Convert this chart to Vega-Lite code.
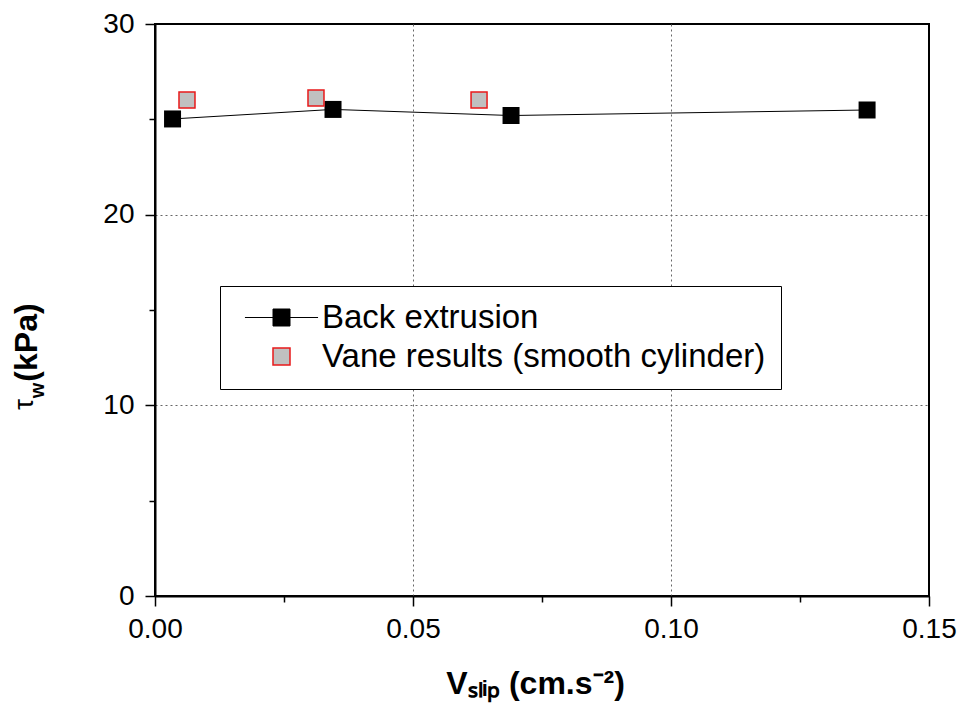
{
  "$schema": "https://vega.github.io/schema/vega-lite/v6.json",
  "autosize": {"type": "none"},
  "padding": {"left": 155, "top": 24, "right": 37, "bottom": 128},
  "width": 774,
  "height": 572,
  "background": "white",
  "config": {
    "view": {"stroke": "black", "strokeWidth": 2},
    "font": "Liberation Sans",
    "axis": {"labelFont": "Liberation Sans", "titleFont": "Liberation Sans"}
  },
  "data": {
    "values": [
      {"series": "Back extrusion", "v": 0.0034, "tau": 25.02},
      {"series": "Back extrusion", "v": 0.0345, "tau": 25.52},
      {"series": "Back extrusion", "v": 0.069, "tau": 25.2},
      {"series": "Back extrusion", "v": 0.138, "tau": 25.49},
      {"series": "Vane results (smooth cylinder)", "v": 0.0062, "tau": 26.01},
      {"series": "Vane results (smooth cylinder)", "v": 0.0312, "tau": 26.12},
      {"series": "Vane results (smooth cylinder)", "v": 0.0628, "tau": 26.01}
    ]
  },
  "layer": [
    {
      "transform": [{"filter": "datum.series === 'Back extrusion'"}],
      "mark": {"type": "line", "color": "black", "strokeWidth": 1},
      "encoding": {
        "x": {
          "field": "v", "type": "quantitative",
          "scale": {"domain": [0, 0.15], "nice": false, "zero": false},
          "axis": {
            "orient": "bottom",
            "values": [0, 0.05, 0.1, 0.15], "format": ".2f", "labelFlush": false,
            "labelFontSize": 28, "labelColor": "black", "labelPadding": 9,
            "tickSize": 10, "tickColor": "black", "tickWidth": 1.5,
            "domainColor": "black", "domainWidth": 2,
            "grid": true, "gridColor": "#666666", "gridDash": [2, 3], "gridWidth": 1,
            "gridOpacity": {"condition": {"test": "datum.value < 0.001 || datum.value > 0.149", "value": 0}, "value": 1},
            "title": "Vₛₗᵢₚ (cm.s⁻²)",
            "titleFontSize": 32, "titleFontWeight": "bold", "titleColor": "black",
            "titleX": 380, "titleY": 97, "titleAlign": "center", "titleBaseline": "alphabetic"
          }
        },
        "y": {
          "field": "tau", "type": "quantitative",
          "scale": {"domain": [0, 30], "nice": false, "zero": false},
          "axis": {
            "orient": "left",
            "values": [0, 10, 20, 30], "labelFlush": false,
            "labelFontSize": 28, "labelColor": "black", "labelPadding": 11,
            "tickSize": 10, "tickColor": "black", "tickWidth": 1.5,
            "domainColor": "black", "domainWidth": 2,
            "grid": true, "gridColor": "#666666", "gridDash": [2, 3], "gridWidth": 1,
            "gridOpacity": {"condition": {"test": "datum.value < 0.01 || datum.value > 29.99", "value": 0}, "value": 1},
            "title": "(kPa)",
            "titleFontSize": 32, "titleFontWeight": "bold", "titleColor": "black",
            "titleAngle": -90, "titleX": -119, "titleY": 318, "titleAlign": "center", "titleBaseline": "alphabetic"
          }
        }
      }
    },
    {
      "transform": [{"filter": "datum.series === 'Back extrusion'"}],
      "mark": {"type": "square", "size": 289, "filled": true, "opacity": 1},
      "encoding": {
        "x": {
          "field": "v", "type": "quantitative",
          "scale": {"domain": [0, 0.15], "nice": false, "zero": false},
          "axis": {
            "orient": "bottom",
            "values": [0.025, 0.075, 0.125], "labels": false, "domain": false, "grid": false,
            "tickSize": 6, "tickColor": "black", "tickWidth": 1.5, "title": null
          }
        },
        "y": {
          "field": "tau", "type": "quantitative",
          "scale": {"domain": [0, 30], "nice": false, "zero": false},
          "axis": {
            "orient": "left",
            "values": [5, 15, 25], "labels": false, "domain": false, "grid": false,
            "tickSize": 6, "tickColor": "black", "tickWidth": 1.5,
            "title": "τ", "titleFontSize": 28, "titleFontWeight": "normal", "titleColor": "black",
            "titleAngle": -90, "titleX": -123, "titleY": 380, "titleAlign": "center", "titleBaseline": "alphabetic"
          }
        },
        "color": {
          "field": "series", "type": "nominal",
          "scale": {"domain": ["Back extrusion", "Vane results (smooth cylinder)"], "range": ["black", "#c0c0c0"]},
          "legend": {
            "title": null, "orient": "none", "legendX": 65, "legendY": 262,
            "fillColor": "white", "strokeColor": "black",
            "padding": 15, "labelFontSize": 33, "labelColor": "black", "labelFont": "Liberation Sans",
            "symbolOffset": 30, "labelOffset": 24, "rowPadding": 5, "symbolSize": 289, "labelLimit": 700,
            "symbolOpacity": 1,
            "symbolType": {"expr": "datum.value === 'Back extrusion' ? 'M-4.3,0H-1M1,0H4.3M-1,-1H1V1H-1Z' : 'square'"},
            "symbolStrokeColor": {"expr": "datum.value === 'Back extrusion' ? 'black' : '#e8191a'"},
            "symbolStrokeWidth": {"expr": "datum.value === 'Back extrusion' ? 1 : 1.5"}
          }
        }
      }
    },
    {
      "transform": [{"filter": "datum.series !== 'Back extrusion'"}],
      "mark": {"type": "square", "size": 256, "filled": true, "opacity": 1, "fill": "#c0c0c0", "stroke": "#e8191a", "strokeWidth": 1.5},
      "encoding": {
        "x": {
          "field": "v", "type": "quantitative",
          "scale": {"domain": [0, 0.15], "nice": false, "zero": false},
          "axis": null
        },
        "y": {
          "field": "tau", "type": "quantitative",
          "scale": {"domain": [0, 30], "nice": false, "zero": false},
          "axis": {
            "orient": "left",
            "labels": false, "ticks": false, "domain": false, "grid": false,
            "title": "w", "titleFontSize": 20, "titleFontWeight": "bold", "titleColor": "black",
            "titleAngle": -90, "titleX": -112, "titleY": 366, "titleAlign": "center", "titleBaseline": "alphabetic"
          }
        }
      }
    }
  ],
  "resolve": {"axis": {"x": "independent", "y": "independent"}}
}
